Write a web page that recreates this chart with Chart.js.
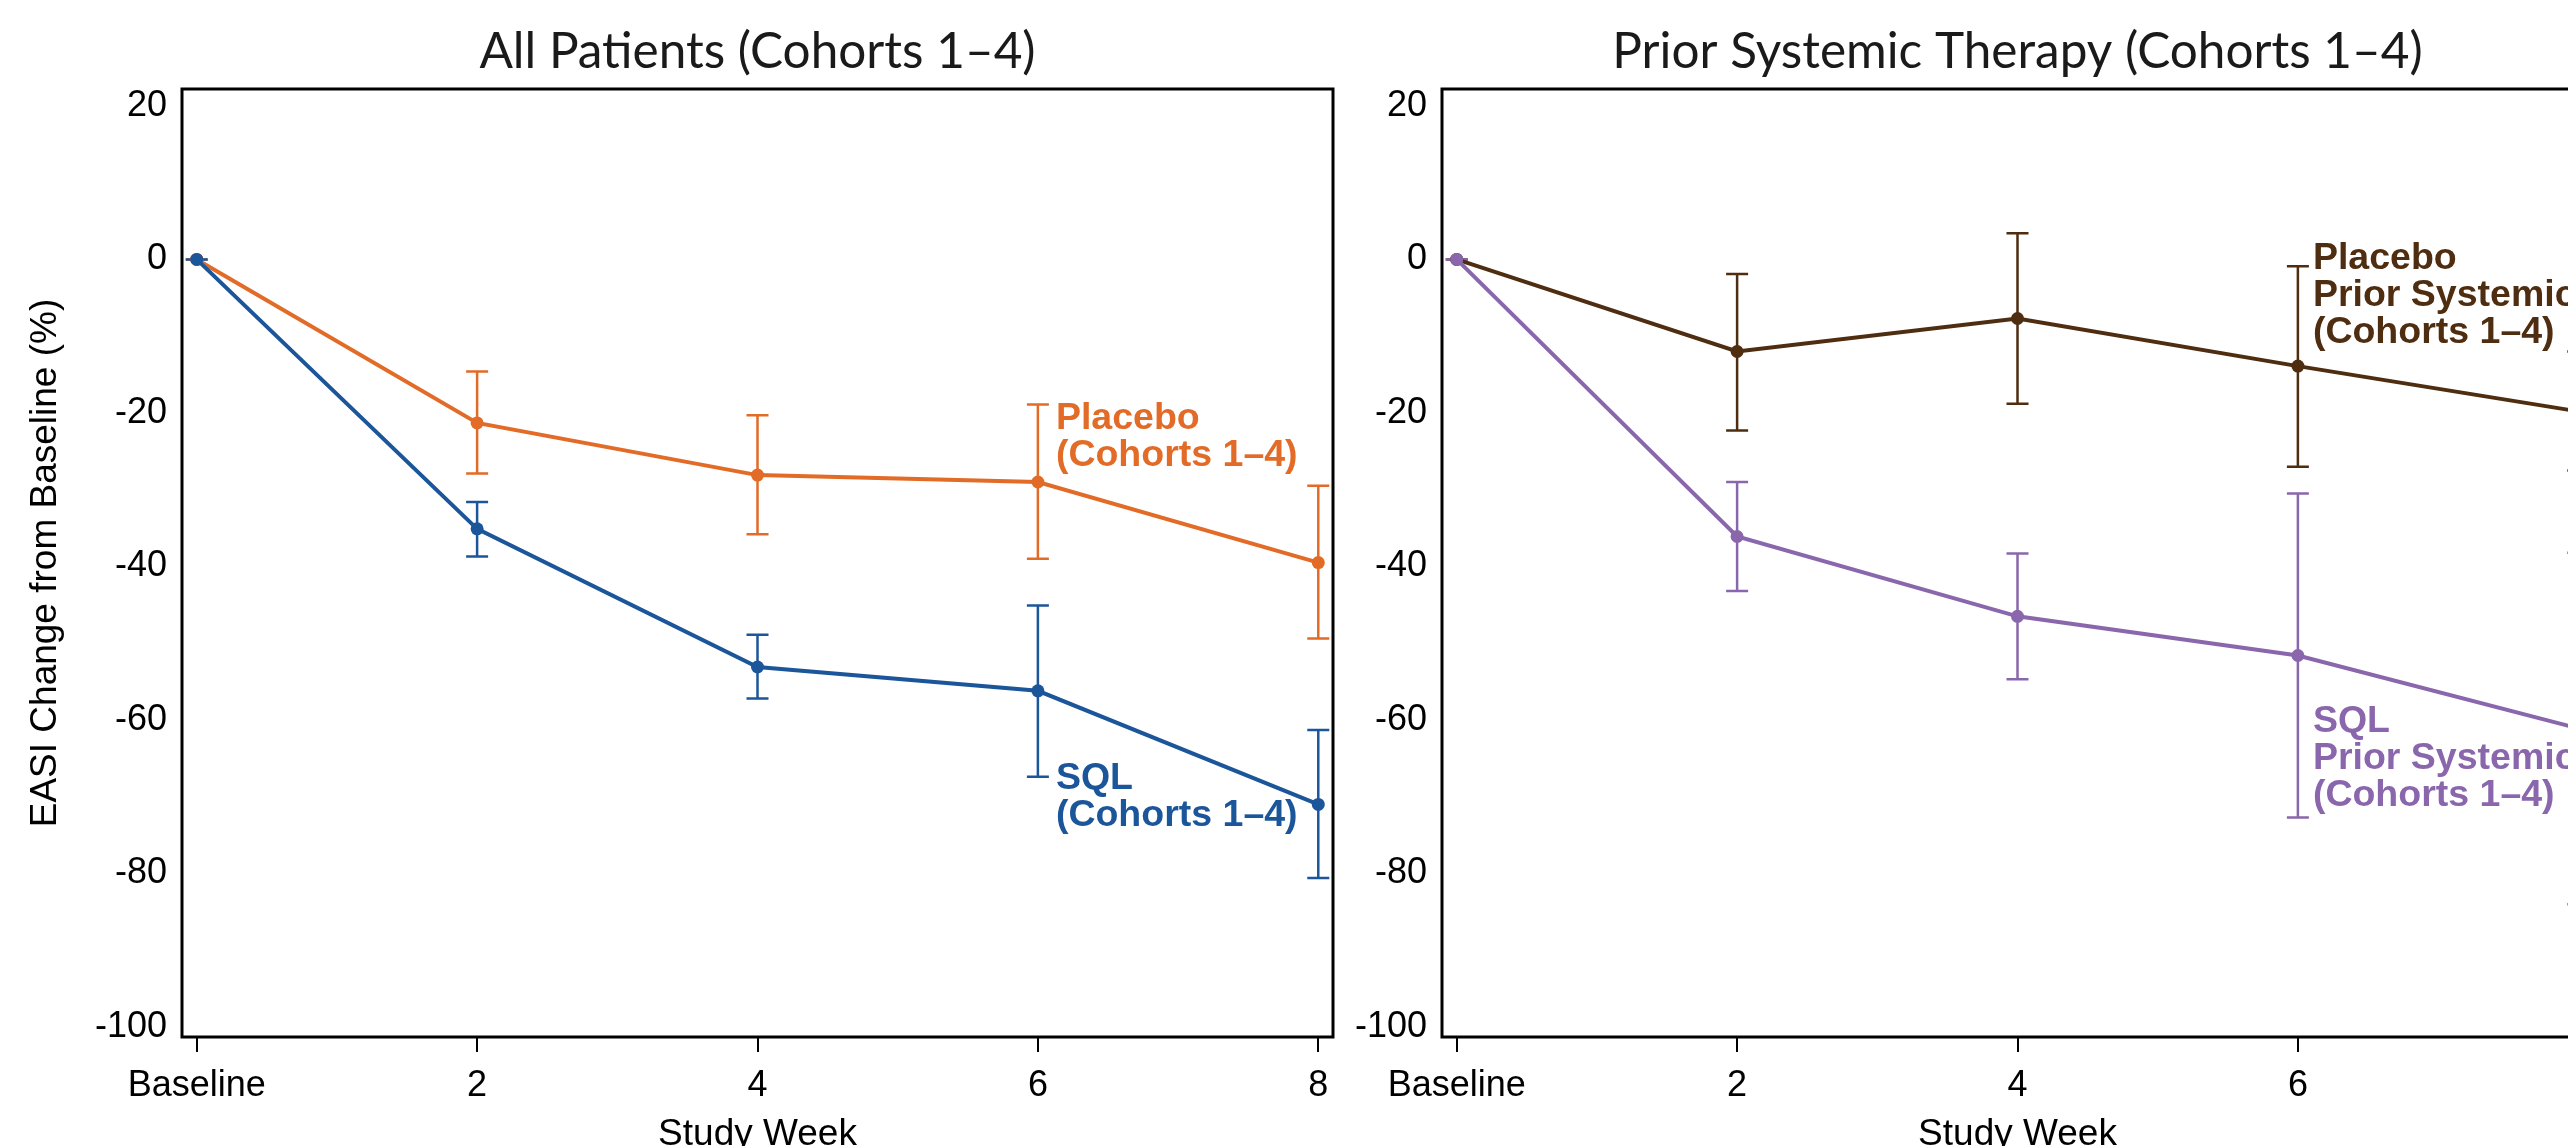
<!DOCTYPE html>
<html><head><meta charset="utf-8">
<script src="https://cdn.jsdelivr.net/npm/chart.js@4.4.1/dist/chart.umd.min.js"></script>
<style>
html,body{margin:0;padding:0;background:#fff;overflow:hidden;}
#wrap{position:relative;width:2568px;height:1146px;overflow:hidden;background:#fff;}
canvas{position:absolute;top:0;}
#c1{left:0;}
#c2{left:1260px;}
</style></head><body>
<div id="wrap"><canvas id="c1" width="1345" height="1180"></canvas><canvas id="c2" width="1345" height="1180"></canvas></div>
<script>
// ---- data ----
const weeks = [0, 2, 4, 6, 8];
const xTickLabels = ['Baseline', '2', '4', '6', '8'];
const yTicks = [20, 0, -20, -40, -60, -80, -100];

const allPlacebo   = [0, -21.3, -28.1, -29.0, -39.5];
const allPlaceboLo = [0, -27.9, -35.8, -39.0, -49.4];
const allPlaceboHi = [0, -14.6, -20.3, -18.9, -29.5];
const allSQL       = [0, -35.1, -53.1, -56.2, -71.0];
const allSQLLo     = [0, -38.7, -57.2, -67.4, -80.6];
const allSQLHi     = [0, -31.6, -48.9, -45.1, -61.3];

const priorPlacebo   = [0, -12.0, -7.7, -13.9, -19.8];
const priorPlaceboLo = [0, -22.3, -18.8, -27.0, -27.5];
const priorPlaceboHi = [0, -1.9, 3.4, -0.9, -12.0];
const priorSQL       = [0, -36.1, -46.5, -51.6, -61.1];
const priorSQLLo     = [0, -43.2, -54.7, -72.7, -84.0];
const priorSQLHi     = [0, -29.0, -38.3, -30.5, -38.2];

const C_ORANGE = '#E26B27', C_BLUE = '#1B559A', C_BROWN = '#4E2D10', C_PURPLE = '#8A67AC';

Chart.defaults.font.family = '"Liberation Sans", Arial, sans-serif';
Chart.defaults.color = '#000';

const extras = {
  id: 'extras',
  beforeDatasetsDraw(chart) {
    const {ctx, scales: {x, y}} = chart;
    ctx.save();
    chart.data.datasets.forEach(ds => {
      ctx.strokeStyle = ds.borderColor;
      ctx.lineWidth = 2.5;
      weeks.forEach((w, i) => {
        const px = x.getPixelForValue(w);
        const pl = y.getPixelForValue(ds.errLo[i]);
        const ph = y.getPixelForValue(ds.errHi[i]);
        ctx.beginPath();
        ctx.moveTo(px, pl); ctx.lineTo(px, ph);
        ctx.moveTo(px - 11, pl); ctx.lineTo(px + 11, pl);
        ctx.moveTo(px - 11, ph); ctx.lineTo(px + 11, ph);
        ctx.stroke();
      });
    });
    ctx.restore();
  },
  afterDraw(chart, args, opts) {
    const {ctx, chartArea: a, scales: {x, y}} = chart;
    ctx.save();
    ctx.strokeStyle = '#000';
    ctx.lineWidth = 3;
    ctx.strokeRect(a.left, a.top, a.right - a.left, a.bottom - a.top);
    ctx.font = 'bold 37.5px "Liberation Sans", Arial, sans-serif';
    ctx.textBaseline = 'alphabetic';
    ctx.textAlign = 'left';
    (opts.notes || []).forEach(n => {
      ctx.fillStyle = n.color;
      const px = x.getPixelForValue(n.x) + n.dx;
      const py = y.getPixelForValue(n.y);
      n.lines.forEach((t, i) => ctx.fillText(t, px, py + i * 37));
    });
    ctx.restore();
  }
};

function makeChart(id, title, series, notes, showYTitle) {
  return new Chart(document.getElementById(id), {
    type: 'line',
    data: {
      datasets: series.map(s => ({
        label: s.label,
        data: weeks.map((w, i) => ({x: w, y: s.values[i]})),
        errLo: s.lo, errHi: s.hi,
        borderColor: s.color, backgroundColor: s.color,
        pointBackgroundColor: s.color, pointBorderWidth: 0,
        pointRadius: 6.5, borderWidth: 4, tension: 0, order: s.order
      }))
    },
    options: {
      responsive: false, animation: false, devicePixelRatio: 1,
      layout: {padding: {left: 0, right: 12, top: 0, bottom: 0}},
      plugins: {
        legend: {display: false}, tooltip: {enabled: false},
        title: {display: true, text: title, fullSize: false, color: '#1a1a1a',
          font: {family: 'Lato', size: 49.5, weight: 'normal'},
          padding: {top: 22, bottom: 7.6}},
        extras: {notes}
      },
      scales: {
        x: {
          type: 'linear', min: -0.105, max: 8.105,
          afterBuildTicks: s => { s.ticks = weeks.map(v => ({value: v})); },
          afterFit: s => { s.height = 143; },
          ticks: {callback: v => xTickLabels[weeks.indexOf(v)], font: {size: 36}, color: '#000', padding: 12, maxRotation: 0, autoSkip: false},
          grid: {display: true, drawOnChartArea: false, drawTicks: true, tickLength: 15, color: '#000', lineWidth: 2},
          border: {display: false},
          title: {display: true, text: 'Study Week', font: {size: 37}, color: '#000', padding: {top: 0, bottom: 22.8}}
        },
        y: {
          min: -101.3, max: 22.2,
          afterBuildTicks: s => { s.ticks = yTicks.map(v => ({value: v})); },
          afterFit: s => { s.width = 182; },
          ticks: {callback: v => String(v), font: {size: 36}, color: '#000', padding: 15},
          grid: {display: false, drawTicks: false},
          border: {display: false},
          title: {display: showYTitle, text: 'EASI Change from Baseline (%)', font: {size: 37}, color: '#000', padding: {top: 24, bottom: 0}}
        }
      }
    },
    plugins: [extras]
  });
}

makeChart('c1', 'All Patients (Cohorts 1–4)', [
  {label: 'Placebo (Cohorts 1–4)', values: allPlacebo, lo: allPlaceboLo, hi: allPlaceboHi, color: C_ORANGE, order: 1},
  {label: 'SQL (Cohorts 1–4)', values: allSQL, lo: allSQLLo, hi: allSQLHi, color: C_BLUE, order: 0}
], [
  {lines: ['Placebo', '(Cohorts 1–4)'], color: C_ORANGE, x: 6, y: -22.1, dx: 18},
  {lines: ['SQL', '(Cohorts 1–4)'], color: C_BLUE, x: 6, y: -69.0, dx: 18}
], true);

makeChart('c2', 'Prior Systemic Therapy (Cohorts 1–4)', [
  {label: 'Placebo Prior Systemic Therapy (Cohorts 1–4)', values: priorPlacebo, lo: priorPlaceboLo, hi: priorPlaceboHi, color: C_BROWN, order: 1},
  {label: 'SQL Prior Systemic Therapy (Cohorts 1–4)', values: priorSQL, lo: priorSQLLo, hi: priorSQLHi, color: C_PURPLE, order: 0}
], [
  {lines: ['Placebo', 'Prior Systemic Therapy', '(Cohorts 1–4)'], color: C_BROWN, x: 6, y: -1.3, dx: 15},
  {lines: ['SQL', 'Prior Systemic Therapy', '(Cohorts 1–4)'], color: C_PURPLE, x: 6, y: -61.6, dx: 15}
], false);
</script>
</body></html>
